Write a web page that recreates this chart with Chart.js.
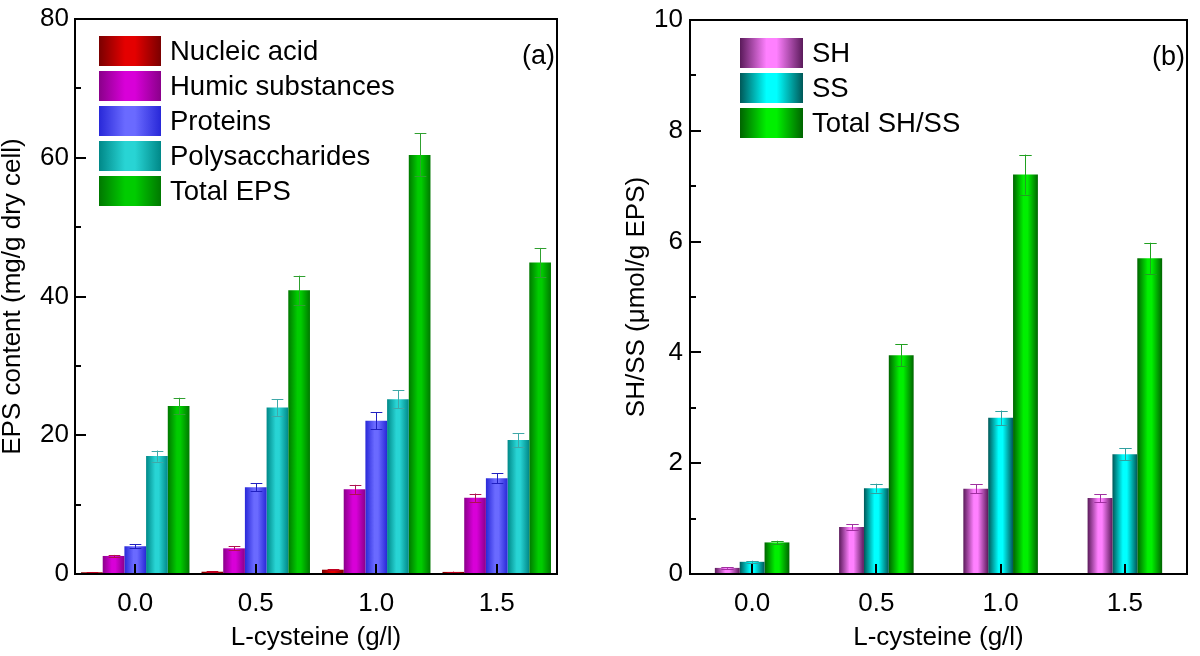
<!DOCTYPE html>
<html><head><meta charset="utf-8">
<script src="https://cdn.jsdelivr.net/npm/chart.js@4/dist/chart.umd.min.js"></script>
<style>
html,body{margin:0;padding:0;background:#fff;}
#wrap{position:relative;width:1200px;height:656px;overflow:hidden;}
canvas{position:absolute;top:0;}
</style></head><body>
<div id="wrap">
<canvas id="c1" width="600" height="656" style="left:0;width:600px;height:656px"></canvas>
<canvas id="c2" width="600" height="656" style="left:600px;width:600px;height:656px"></canvas>
</div>
<script>
// ---------- data ----------
const categories = ['0.0', '0.5', '1.0', '1.5'];

const epsLabels = ['Nucleic acid', 'Humic substances', 'Proteins', 'Polysaccharides', 'Total EPS'];
const nucleicAcid = [0.25, 0.33, 0.62, 0.30];
const nucleicAcidErr = [0.04, 0.04, 0.06, 0.04];
const humicSubstances = [2.6, 3.7, 12.2, 11.0];
const humicSubstancesErr = [0.15, 0.3, 0.65, 0.6];
const proteins = [4.0, 12.5, 22.1, 13.8];
const proteinsErr = [0.3, 0.6, 1.2, 0.75];
const polysaccharides = [17.0, 24.0, 25.2, 19.3];
const polysaccharidesErr = [0.8, 1.2, 1.3, 1.0];
const totalEPS = [24.2, 40.9, 60.4, 44.9];
const totalEPSErr = [1.2, 2.1, 3.1, 2.1];
const epsTicks = [0, 20, 40, 60, 80];
const epsMinorTicks = [10, 30, 50, 70];

const shLabels = ['SH', 'SS', 'Total SH/SS'];
const sh = [0.11, 0.85, 1.54, 1.37];
const shErr = [0.015, 0.05, 0.08, 0.07];
const ss = [0.22, 1.55, 2.82, 2.16];
const ssErr = [0.02, 0.08, 0.13, 0.11];
const totalSHSS = [0.57, 3.95, 7.21, 5.70];
const totalSHSSErr = [0.03, 0.2, 0.36, 0.28];
const shTicks = [0, 2, 4, 6, 8, 10];
const shMinorTicks = [1, 3, 5, 7, 9];

const FONT = '"Liberation Sans", Arial, Helvetica, sans-serif';

// ---------- plugins ----------
function grad(ctx, x0, x1, dark, bright) {
  const g = ctx.createLinearGradient(x0, 0, x1, 0);
  g.addColorStop(0, dark);
  g.addColorStop(0.42, bright);
  g.addColorStop(0.58, bright);
  g.addColorStop(1, dark);
  return g;
}

const gradPlugin = {
  id: 'gradBars',
  afterDatasetsUpdate(chart) {
    const ctx = chart.ctx;
    chart.data.datasets.forEach((ds, i) => {
      const meta = chart.getDatasetMeta(i);
      meta.data.forEach(el => {
        const p = el.getProps(['x', 'width'], true);
        el.options = Object.assign({}, el.options, {
          backgroundColor: grad(ctx, p.x - p.width / 2, p.x + p.width / 2, ds.dark, ds.bright)
        });
      });
    });
  }
};

const decoPlugin = {
  id: 'deco',
  afterDatasetsDraw(chart, args, o) {
    const ctx = chart.ctx, a = chart.chartArea, xs = chart.scales.x, ys = chart.scales.y;
    ctx.save();
    // error bars
    chart.data.datasets.forEach((ds, i) => {
      const meta = chart.getDatasetMeta(i);
      ctx.strokeStyle = ds.errColor;
      ctx.lineWidth = 1;
      meta.data.forEach((el, j) => {
        const v = ds.data[j], e = ds.errors[j];
        const yt = ys.getPixelForValue(v + e), yb = ys.getPixelForValue(v - e);
        const x = Math.round(el.x) + 0.5, hw = el.width * o.cap;
        ctx.beginPath();
        ctx.moveTo(x, yt); ctx.lineTo(x, yb);
        ctx.moveTo(x - hw, Math.round(yt) + 0.5); ctx.lineTo(x + hw, Math.round(yt) + 0.5);
        ctx.moveTo(x - hw, Math.round(yb) + 0.5); ctx.lineTo(x + hw, Math.round(yb) + 0.5);
        ctx.stroke();
      });
    });
    // inward ticks
    ctx.strokeStyle = '#000';
    ctx.lineWidth = 2;
    ctx.beginPath();
    o.major.forEach(v => { const y = Math.round(ys.getPixelForValue(v)); ctx.moveTo(a.left, y); ctx.lineTo(a.left + 11, y); });
    o.minor.forEach(v => { const y = Math.round(ys.getPixelForValue(v)); ctx.moveTo(a.left, y); ctx.lineTo(a.left + 6, y); });
    categories.forEach((c, i) => { const x = Math.round(xs.getPixelForValue(i)); ctx.moveTo(x, a.bottom); ctx.lineTo(x, a.bottom - 10); });
    ctx.stroke();
    // frame
    ctx.strokeRect(a.left, a.top, a.right - a.left, a.bottom - a.top);
    // legend
    ctx.font = '27.5px ' + FONT;
    ctx.textBaseline = 'middle';
    ctx.textAlign = 'left';
    chart.data.datasets.forEach((ds, i) => {
      const y = o.legY + i * o.legPitch;
      ctx.fillStyle = grad(ctx, o.legX, o.legX + o.legW, ds.dark, ds.bright);
      ctx.fillRect(o.legX, y, o.legW, o.legH);
      ctx.fillStyle = '#000';
      ctx.fillText(ds.label, o.legX + o.legW + 9, y + o.legH / 2 + 1);
    });
    // panel label
    ctx.font = '27px ' + FONT;
    ctx.textAlign = 'right';
    ctx.fillText(o.panel, o.panelX, o.panelY);
    ctx.restore();
  }
};

function makeChart(id, datasets, ticks, minor, yTitle, g) {
  return new Chart(document.getElementById(id), {
    type: 'bar',
    data: { labels: categories, datasets },
    options: {
      responsive: false,
      animation: false,
      events: [],
      layout: { padding: { left: 0, right: 600 - g.right, top: g.top, bottom: 0 } },
      datasets: { bar: { categoryPercentage: g.cat, barPercentage: 1, borderWidth: 0 } },
      plugins: {
        legend: { display: false },
        tooltip: { enabled: false },
        deco: g.deco
      },
      scales: {
        x: {
          grid: { display: false, drawTicks: false },
          border: { display: false },
          ticks: { color: '#000', font: { family: FONT, size: 26, lineHeight: 1 }, padding: 17 },
          title: { display: true, text: 'L-cysteine (g/l)', color: '#000', font: { family: FONT, size: 26, lineHeight: 1 }, padding: { top: 0, bottom: 5 } },
          afterFit(s) { s.height = 656 - g.bottom; }
        },
        y: {
          min: ticks[0], max: ticks[ticks.length - 1],
          grid: { display: false, drawTicks: false },
          border: { display: false },
          afterBuildTicks(s) { s.ticks = ticks.map(v => ({ value: v })); },
          ticks: { color: '#000', font: { family: FONT, size: 26, lineHeight: 1 }, padding: g.tickPad },
          title: { display: true, text: yTitle, color: '#000', font: { family: FONT, size: 26, lineHeight: 1 }, padding: { top: g.titlePad, bottom: 0 } },
          afterFit(s) { s.width = g.left; }
        }
      }
    },
    plugins: [gradPlugin, decoPlugin]
  });
}

makeChart('c1', [
  { label: epsLabels[0], data: nucleicAcid, errors: nucleicAcidErr, dark: '#7a0000', bright: '#e40000', errColor: '#c00020' },
  { label: epsLabels[1], data: humicSubstances, errors: humicSubstancesErr, dark: '#8a008a', bright: '#d800d8', errColor: '#b01050' },
  { label: epsLabels[2], data: proteins, errors: proteinsErr, dark: '#2828d8', bright: '#6a6aff', errColor: '#2020c0' },
  { label: epsLabels[3], data: polysaccharides, errors: polysaccharidesErr, dark: '#008888', bright: '#28d4d4', errColor: '#40a8a8' },
  { label: epsLabels[4], data: totalEPS, errors: totalEPSErr, dark: '#007800', bright: '#00cc00', errColor: '#30a030' }
], epsTicks, epsMinorTicks, 'EPS content (mg/g dry cell)', {
  left: 75, right: 557, top: 14, bottom: 574, cat: 0.9, tickPad: 6, titlePad: 0,
  deco: { major: epsTicks, minor: epsMinorTicks, cap: 0.27, legX: 99, legY: 36, legW: 62, legH: 30, legPitch: 35, panel: '(a)', panelX: 555, panelY: 57 }
});

makeChart('c2', [
  { label: shLabels[0], data: sh, errors: shErr, dark: '#5a1a5a', bright: '#ff80ff', errColor: '#a030a0' },
  { label: shLabels[1], data: ss, errors: ssErr, dark: '#005858', bright: '#00ffff', errColor: '#30a0a0' },
  { label: shLabels[2], data: totalSHSS, errors: totalSHSSErr, dark: '#006400', bright: '#00f000', errColor: '#20a020' }
], shTicks, shMinorTicks, 'SH/SS (\u03bcmol/g EPS)', {
  left: 90, right: 587, top: 14, bottom: 574, cat: 0.6, tickPad: 7, titlePad: 24,
  deco: { major: shTicks, minor: shMinorTicks, cap: 0.25, legX: 140, legY: 38, legW: 63, legH: 30, legPitch: 35, panel: '(b)', panelX: 585, panelY: 58 }
});
</script>
</body></html>
